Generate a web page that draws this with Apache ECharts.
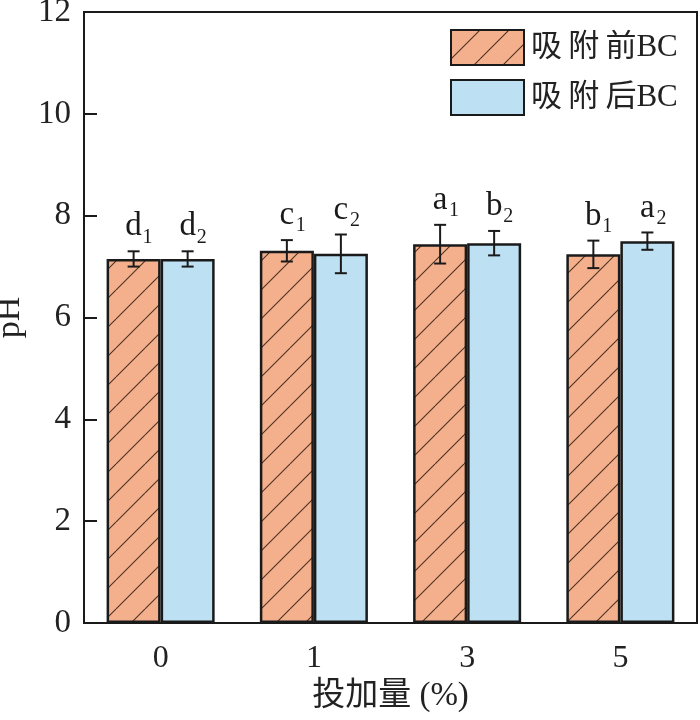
<!DOCTYPE html>
<html>
<head>
<meta charset="utf-8">
<script src="https://cdn.jsdelivr.net/npm/echarts@6/dist/echarts.min.js"></script>
<style>html,body{margin:0;padding:0;background:#fff;}#c{width:700px;height:720px;}</style>
</head>
<body>
<div id="c"></div>
<script>
const categories = ['0', '1', '3', '5'];
const beforeValues = [7.15, 7.31, 7.44, 7.24];
const beforeErrors = [0.15, 0.21, 0.38, 0.27];
const beforeLetters = ['d', 'c', 'a', 'b'];
const beforeSubs = ['1', '1', '1', '1'];
const afterValues = [7.15, 7.25, 7.46, 7.50];
const afterErrors = [0.15, 0.38, 0.24, 0.17];
const afterLetters = ['d', 'c', 'b', 'a'];
const afterSubs = ['2', '2', '2', '2'];
const yTicks = [0, 2, 4, 6, 8, 10, 12];
const seriesNames = ['吸附前BC', '吸附后BC'];

const SERIF = '"Liberation Serif", "Times New Roman", serif';
const CJK = '"Liberation Serif", "Noto Sans CJK SC", serif';
const ORANGE = '#F4B08C';
const BLUE = '#BDE0F3';
const GAP = 0.295;

function hatch() {
  const s = 29;
  const cv = document.createElement('canvas');
  cv.width = s; cv.height = s;
  const ctx = cv.getContext('2d');
  ctx.fillStyle = ORANGE;
  ctx.fillRect(0, 0, s, s);
  ctx.strokeStyle = '#4a3022';
  ctx.lineWidth = 1.1;
  [[-s, 0], [0, 0], [s, 0]].forEach(function (o) {
    ctx.beginPath();
    ctx.moveTo(o[0], s);
    ctx.lineTo(o[0] + s, 0);
    ctx.stroke();
  });
  return { image: cv, repeat: 'repeat' };
}

function errSeries(side, vals, errs, letters, subs) {
  return {
    type: 'custom',
    z: 5,
    silent: true,
    data: categories.map(function (c, i) { return [i, vals[i], errs[i]]; }),
    renderItem: function (params, api) {
      const i = api.value(0), v = api.value(1), e = api.value(2);
      const band = api.size([1, 0])[0];
      const bw = band * (1 - GAP) / 2;
      const cx = api.coord([i, v])[0] + side * bw / 2;
      const top = api.coord([i, v + e])[1];
      const bot = api.coord([i, v - e])[1];
      const cap = 6;
      const st = { stroke: '#1a1a1a', lineWidth: 2 };
      return {
        type: 'group',
        children: [
          { type: 'line', shape: { x1: cx, y1: top, x2: cx, y2: bot }, style: st },
          { type: 'line', shape: { x1: cx - cap, y1: top, x2: cx + cap, y2: top }, style: st },
          { type: 'line', shape: { x1: cx - cap, y1: bot, x2: cx + cap, y2: bot }, style: st },
          { type: 'text', x: cx, y: top - 8, style: { text: letters[i], font: '33px ' + SERIF, fill: '#1a1a1a', align: 'center', verticalAlign: 'bottom' } },
          { type: 'text', x: cx + 9, y: top - 4, style: { text: subs[i], font: '20px ' + SERIF, fill: '#1a1a1a', align: 'left', verticalAlign: 'bottom' } }
        ]
      };
    }
  };
}

const chart = echarts.init(document.getElementById('c'), null, { renderer: 'canvas' });
chart.setOption({
  animation: false,
  backgroundColor: '#fff',
  grid: { left: 84, right: 3, top: 12, bottom: 97, containLabel: false, outerBoundsMode: 'none', show: true, borderColor: '#1a1a1a', borderWidth: 2 },
  legend: {
    orient: 'vertical', left: 445, top: 24, icon: 'rect',
    itemWidth: 73, itemHeight: 35, itemGap: 13,
    data: seriesNames,
    formatter: function (n) { return n.slice(0, 3).split('').join('\u2009') + n.slice(3); },
    textStyle: { fontFamily: CJK, fontSize: 31, color: '#222', padding: [0, 0, 0, 2] }
  },
  xAxis: {
    type: 'category', data: categories,
    axisLine: { lineStyle: { color: '#1a1a1a', width: 2 } },
    axisTick: { show: false },
    axisLabel: { fontFamily: SERIF, fontSize: 32, color: '#222', margin: 20 },
    name: '投加量 (%)', nameLocation: 'middle', nameGap: 52,
    nameTextStyle: { fontFamily: CJK, fontSize: 33, color: '#222' }
  },
  yAxis: {
    type: 'value', min: yTicks[0], max: yTicks[yTicks.length - 1], interval: 2,
    axisLine: { show: true, lineStyle: { color: '#1a1a1a', width: 2 } },
    axisTick: { show: true, inside: true, length: 13, lineStyle: { color: '#1a1a1a', width: 2 } },
    splitLine: { show: false },
    axisLabel: { fontFamily: SERIF, fontSize: 33, color: '#222', margin: 13 },
    name: 'pH', nameLocation: 'middle', nameGap: 44, nameRotate: 90,
    nameTextStyle: { fontFamily: SERIF, fontSize: 34, color: '#222' }
  },
  series: [
    {
      name: seriesNames[0], type: 'bar', data: beforeValues,
      barGap: '0%', barCategoryGap: (GAP * 100) + '%',
      itemStyle: { color: hatch(), borderColor: '#1a1a1a', borderWidth: 2.5 }
    },
    {
      name: seriesNames[1], type: 'bar', data: afterValues,
      itemStyle: { color: BLUE, borderColor: '#1a1a1a', borderWidth: 2.5 }
    },
    errSeries(-1, beforeValues, beforeErrors, beforeLetters, beforeSubs),
    errSeries(1, afterValues, afterErrors, afterLetters, afterSubs)
  ]
});
</script>
</body>
</html>
